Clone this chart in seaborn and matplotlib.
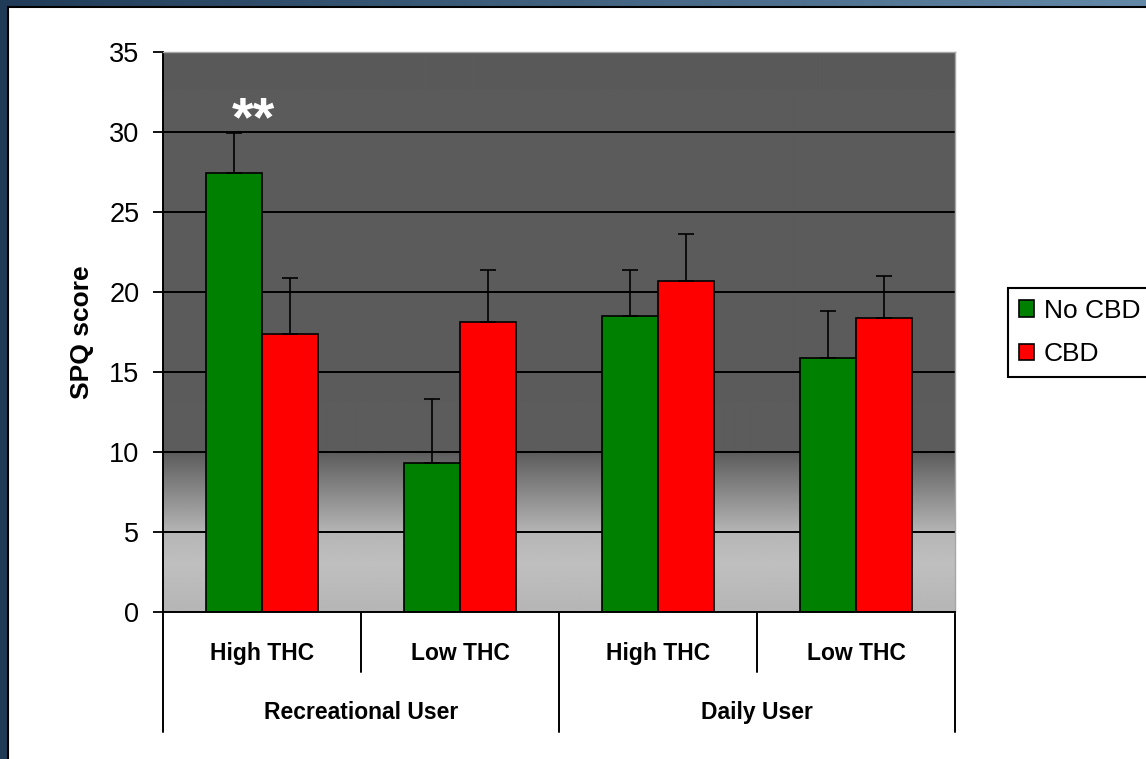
import numpy as np
import pandas as pd
import matplotlib.pyplot as plt
import seaborn as sns
from matplotlib.patches import Rectangle
from matplotlib.colors import LinearSegmentedColormap
from matplotlib import font_manager

# data
users = ["Recreational User", "Daily User"]
thc_levels = ["High THC", "Low THC"]
treatments = ["No CBD", "CBD"]
no_cbd_mean = [27.45, 9.3, 18.5, 15.9]
no_cbd_err = [2.5, 4.0, 2.9, 2.9]
cbd_mean = [17.4, 18.1, 20.7, 18.4]
cbd_err = [3.45, 3.3, 2.9, 2.6]
y_ticks = np.arange(0, 36, 5)
colors = ["#008000", "#ff0000"]

groups = [f"{u}|{t}" for u in users for t in thc_levels]
df = pd.DataFrame({
    "group": groups * 2,
    "treatment": np.repeat(treatments, len(groups)),
    "score": no_cbd_mean + cbd_mean,
})
errs = {"No CBD": no_cbd_err, "CBD": cbd_err}

sns.set_theme(style="white")
plt.rcParams["font.family"] = ["Liberation Sans", "DejaVu Sans"]
plt.rcParams["text.color"] = "black"
plt.rcParams["axes.labelcolor"] = "black"
plt.rcParams["ytick.color"] = "black"
plt.rcParams["xtick.color"] = "black"

installed = {f.name for f in font_manager.fontManager.ttflist}
if "Liberation Sans Narrow" in installed:
    cat_family, cat_size = ["Liberation Sans Narrow", "DejaVu Sans"], 18
else:
    cat_family, cat_size = ["Liberation Sans", "DejaVu Sans"], 16.5

W, H = 1146, 759
fig = plt.figure(figsize=(W / 100, H / 100), dpi=100)

# blue slide frame
bg = fig.add_axes([0, 0, 1, 1], zorder=-2)
frame_cmap = LinearSegmentedColormap.from_list("frame", ["#1f3b57", "#6489a8"])
bg.imshow(np.linspace(0, 1, 256)[None, :], cmap=frame_cmap, aspect="auto", extent=[0, 1, 0, 1])
bg.set_axis_off()
fig.add_artist(Rectangle((8 / W, -0.05), 1.2, 1 - 7 / H + 0.05, transform=fig.transFigure,
                         facecolor="white", edgecolor="black", lw=1.5, zorder=-1))

ax = fig.add_axes([163 / W, 1 - 612 / H, 792 / W, 560 / H])

# gradient plot background
ys = np.linspace(0, 35, 700)
shade = np.interp(ys, [0, 3, 5, 10, 35], [0.71, 0.75, 0.71, 0.36, 0.355])
ax.imshow(np.repeat(shade[:, None], 2, axis=1), cmap="gray", vmin=0, vmax=1, origin="lower",
          extent=[-0.5, 3.5, 0, 35], aspect="auto", zorder=0, interpolation="bilinear")

sns.barplot(data=df, x="group", y="score", hue="treatment", order=groups, hue_order=treatments,
            palette=colors, width=0.566, gap=0, edgecolor="black", linewidth=1.2,
            errorbar=None, saturation=1, legend=False, ax=ax, zorder=2)

containers = list(ax.containers)
for container, name in zip(containers, treatments):
    xs = [b.get_x() + b.get_width() / 2 for b in container]
    hs = [b.get_height() for b in container]
    ax.errorbar(xs, hs, yerr=[np.zeros(len(xs)), errs[name]], fmt="none", ecolor="black",
                elinewidth=1.2, capsize=5.5, capthick=1.2, zorder=3)

for y in y_ticks[1:-1]:
    ax.axhline(y, color="black", lw=1.4, zorder=0.5)

ax.set_xlim(-0.5, 3.5)
ax.set_ylim(0, 35)
ax.set_yticks(y_ticks)
ax.set_xticks([])
ax.set_xlabel("")
ax.tick_params(axis="y", left=True, length=7, width=1.3, color="black", pad=10, labelsize=19.5)
for s in ["left", "bottom"]:
    ax.spines[s].set_color("black")
    ax.spines[s].set_linewidth(1.4)
for s in ["top", "right"]:
    ax.spines[s].set_color("#a6a6a6")
    ax.spines[s].set_linewidth(1)

ax.set_ylabel("SPQ score", fontsize=19, fontweight="bold")
ax.yaxis.set_label_coords(-0.087, 0.5)

# two-level category axis
trans = ax.get_xaxis_transform()
for i, x in enumerate(np.arange(-0.5, len(groups), 1)):
    bottom = -0.214 if i % 2 == 0 else -0.107
    ax.plot([x, x], [0, bottom], transform=trans, color="black", lw=1.4, clip_on=False)
for i, g in enumerate(groups):
    ax.text(i, -0.074, g.split("|")[1], transform=trans, ha="center", va="center",
            fontweight="bold", family=cat_family, fontsize=cat_size)
for j, u in enumerate(users):
    ax.text(2 * j + 0.5, -0.180, u, transform=trans, ha="center", va="center",
            fontweight="bold", family=cat_family, fontsize=cat_size)

# significance mark over first bar
bar0 = containers[0][0]
ax.text(bar0.get_x() + bar0.get_width() / 2 + 0.1, no_cbd_mean[0] + no_cbd_err[0] + 0.7, "**",
        ha="center", va="center", color="white", fontsize=40, fontweight="bold", zorder=4)

handles = [Rectangle((0, 0), 1, 1, facecolor=c, edgecolor="black", lw=1.2) for c in colors]
leg = ax.legend(handles, treatments, loc="upper left", bbox_to_anchor=(1008 / W, 1 - 288 / H),
                bbox_transform=fig.transFigure, fontsize=19, frameon=True, fancybox=False,
                edgecolor="black", framealpha=1, borderpad=0.4, handlelength=0.6,
                handleheight=0.6, handletextpad=0.35, labelspacing=0.75, borderaxespad=0)
leg.get_frame().set_linewidth(1.5)

fig.savefig("out.png", dpi=100)
